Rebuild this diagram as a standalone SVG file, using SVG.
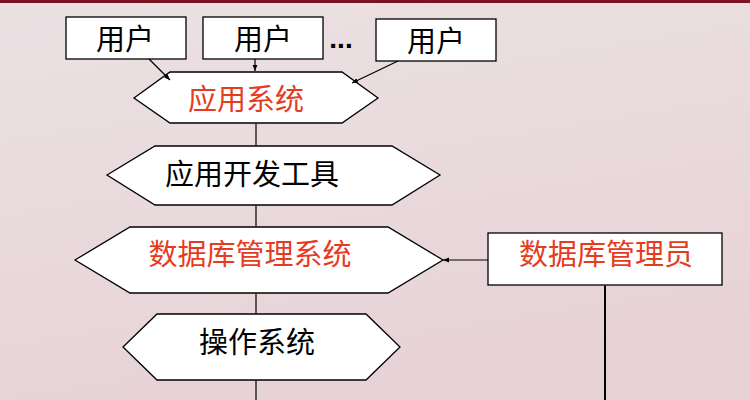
<svg xmlns="http://www.w3.org/2000/svg" width="750" height="400" viewBox="0 0 750 400">
<defs>
<marker id="ah" viewBox="0 0 10 10" refX="10" refY="5" markerWidth="6" markerHeight="6" orient="auto" markerUnits="userSpaceOnUse"><path d="M0,1 L10,5 L0,9 z" fill="#000"/></marker>
<linearGradient id="bg" x1="0" y1="0" x2="0.3" y2="1"><stop offset="0" stop-color="#ebe1e3"/><stop offset="1" stop-color="#e7d3d7"/></linearGradient>
</defs>
<style>
.box{fill:#fff;stroke:#000;stroke-width:1.3}
.t{font-family:"Noto Sans CJK SC","Liberation Sans",sans-serif;font-size:29px;text-anchor:middle;dominant-baseline:central;fill:#000}
.r{fill:#e63c1e}
.ln{stroke:#000;stroke-width:1.2;fill:none}
</style>
<rect width="750" height="400" fill="url(#bg)"/>
<rect width="750" height="3" fill="#7a1424"/>
<g id="user1"><rect class="box" x="66" y="17" width="120" height="42"/><text class="t" x="125" y="37" font-size="28">用户</text></g>
<g id="user2"><rect class="box" x="203" y="17" width="120" height="42"/><text class="t" x="263" y="37" font-size="28">用户</text></g>
<g id="dots"><text x="341" y="48" font-family="Liberation Sans,sans-serif" font-size="28" font-weight="bold" text-anchor="middle" fill="#000">...</text></g>
<g id="user3"><rect class="box" x="376" y="19" width="120" height="42"/><text class="t" x="436" y="39" font-size="28">用户</text></g>
<g id="app"><polygon class="box" points="134,98 170,72 342,72 378,98 342,123 170,123"/><text class="t r" x="246" y="97">应用系统</text></g>
<g id="devtools"><polygon class="box" points="107,175 155,146 392,146 440,175 392,205 155,205"/><text class="t" x="252" y="172">应用开发工具</text></g>
<g id="dbms"><polygon class="box" points="75,260 130,227 388,227 443,260 388,293 130,293"/><text class="t r" x="250" y="252">数据库管理系统</text></g>
<g id="dba"><rect class="box" x="488" y="233" width="234" height="52"/><text class="t r" x="606" y="252">数据库管理员</text></g>
<g id="os"><polygon class="box" points="123,347 157,314 366,314 400,347 366,380 157,380"/><text class="t" x="257" y="340">操作系统</text></g>
<g id="connectors">
<path class="ln" d="M256,123.6 V145.4 M256,205.6 V226.4 M256,293.6 V313.4 M256,380.6 V400"/>
<line class="ln" x1="149" y1="59" x2="170" y2="80" marker-end="url(#ah)"/>
<line class="ln" x1="255" y1="59" x2="255" y2="71" marker-end="url(#ah)"/>
<line class="ln" x1="398" y1="61" x2="352" y2="83" marker-end="url(#ah)"/>
<line class="ln" x1="488" y1="260" x2="443" y2="260" marker-end="url(#ah)"/>
<line x1="605" y1="285.6" x2="605" y2="400" stroke="#000" stroke-width="2"/>
</g>
</svg>
